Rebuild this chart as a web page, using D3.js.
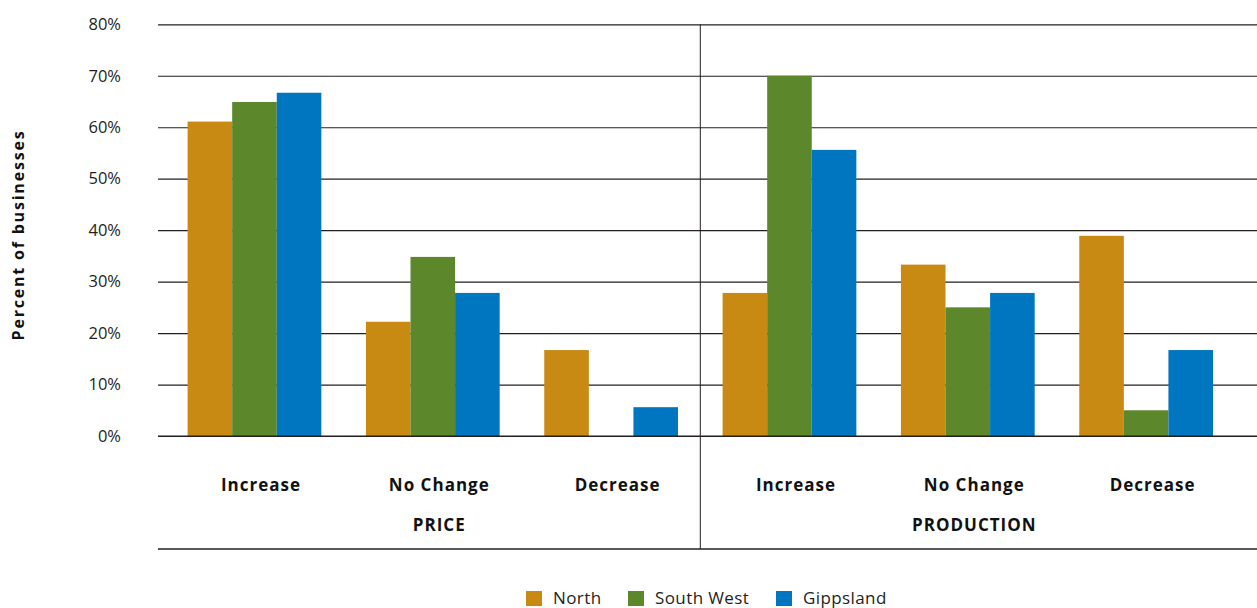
<!DOCTYPE html>
<html>
<head>
<meta charset="utf-8">
<script src="https://cdn.jsdelivr.net/npm/d3@7"></script>
<style>
  html, body { margin: 0; padding: 0; background: #fff; }
  svg { display: block; }
  text { font-family: "Open Sans", "DejaVu Sans", sans-serif; }
</style>
</head>
<body>
<svg id="chart" width="1257" height="608"></svg>
<script>
const groups = ["PRICE", "PRODUCTION"];
const subCategories = ["Increase", "No Change", "Decrease"];
const categories = ["PRICE|Increase", "PRICE|No Change", "PRICE|Decrease",
                    "PRODUCTION|Increase", "PRODUCTION|No Change", "PRODUCTION|Decrease"];
const seriesNames = ["North", "South West", "Gippsland"];
const north     = [61.1, 22.2, 16.7, 27.8, 33.3, 38.9];
const southWest = [64.9, 34.8, 0,    70.0, 25.0, 5.0];
const gippsland = [66.7, 27.8, 5.6,  55.6, 27.8, 16.7];
const yTicks = [0, 10, 20, 30, 40, 50, 60, 70, 80];
const colors = ["#C88A13", "#5C872A", "#0076C0"];

const svg = d3.select("#chart");
const gridLeft = 158, gridRight = 1257;
const y = d3.scaleLinear().domain([0, 80]).range([436, 24.3]);
const x0 = d3.scaleBand().domain(categories).range([165.3, 1235.3]).paddingInner(0).paddingOuter(0);
const x1 = d3.scaleBand().domain(seriesNames).range([0, x0.bandwidth()]).paddingInner(0).paddingOuter(0.5);
const color = d3.scaleOrdinal().domain(seriesNames).range(colors);
const values = [north, southWest, gippsland];

// y axis (ticks + gridlines)
const yAxis = d3.axisLeft(y).tickValues(yTicks).tickSize(-(gridRight - gridLeft)).tickPadding(37)
  .tickFormat(d => d + "%");
const ya = svg.append("g").attr("transform", `translate(${gridLeft},0)`).call(yAxis);
ya.select(".domain").remove();
ya.selectAll(".tick line").attr("stroke", "#231f20").attr("stroke-width", 1.2);
ya.selectAll(".tick text").attr("fill", "#231f20")
  .style("font-size", "16.5px").style("font-family", "'Open Sans', sans-serif");

// bars
const barG = svg.append("g");
categories.forEach((c, i) => {
  seriesNames.forEach((s, j) => {
    const v = values[j][i];
    if (v <= 0) return;
    barG.append("rect")
      .attr("x", x0(c) + x1(s))
      .attr("width", x1.bandwidth())
      .attr("y", y(v))
      .attr("height", y(0) - y(v))
      .attr("fill", color(s));
  });
});

// zero baseline on top
svg.append("line").attr("x1", gridLeft).attr("x2", gridRight).attr("y1", y(0)).attr("y2", y(0))
  .attr("stroke", "#231f20").attr("stroke-width", 1.2);

// separator and bottom line
const sepX = x0(categories[3]);
svg.append("line").attr("x1", sepX).attr("x2", sepX).attr("y1", y(80)).attr("y2", 549)
  .attr("stroke", "#231f20").attr("stroke-width", 1);
svg.append("line").attr("x1", gridLeft).attr("x2", gridRight).attr("y1", 549).attr("y2", 549)
  .attr("stroke", "#231f20").attr("stroke-width", 1.5);

// category labels
categories.forEach(c => {
  const sub = c.split("|")[1];
  svg.append("text")
    .attr("x", x0(c) + x0.bandwidth() / 2 + 6.5)
    .attr("y", 491)
    .attr("text-anchor", "middle")
    .attr("fill", "#111")
    .style("font-weight", "bold")
    .style("font-size", "17px")
    .style("letter-spacing", "1px")
    .text(sub);
});
groups.forEach(g => {
  const cats = categories.filter(c => c.startsWith(g + "|"));
  const cx = (x0(cats[0]) + x0(cats[cats.length - 1]) + x0.bandwidth()) / 2 + 6.5;
  svg.append("text")
    .attr("x", cx).attr("y", 531)
    .attr("text-anchor", "middle")
    .attr("fill", "#111")
    .style("font-weight", "bold")
    .style("font-size", "17px")
    .style("letter-spacing", "1px")
    .text(g);
});

// y axis title
svg.append("text")
  .attr("transform", "translate(24,235) rotate(-90)")
  .attr("text-anchor", "middle")
  .attr("fill", "#111")
  .style("font-weight", "bold")
  .style("font-size", "16px")
  .style("letter-spacing", "1.8px")
  .text("Percent of businesses");

// legend
const legendX = [526, 628, 776];
const lg = svg.append("g");
seriesNames.forEach((s, j) => {
  lg.append("rect").attr("x", legendX[j]).attr("y", 591).attr("width", 16).attr("height", 15).attr("fill", color(s));
  lg.append("text").attr("x", legendX[j] + 27).attr("y", 604)
    .attr("fill", "#231f20").style("font-size", "17px").style("letter-spacing", "0.4px").text(s);
});
</script>
</body>
</html>
